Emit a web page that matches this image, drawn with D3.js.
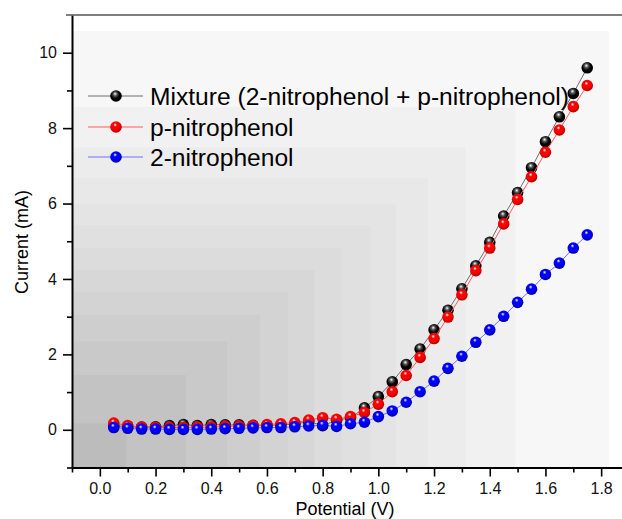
<!DOCTYPE html>
<html><head><meta charset="utf-8">
<script src="https://cdn.jsdelivr.net/npm/d3@7"></script>
<style>body{margin:0;background:#fff}svg{display:block;font-family:"Liberation Sans",Arial,sans-serif}</style>
</head><body><svg id="c" width="622" height="519"></svg>
<script>
const potential = [0.05,0.10,0.15,0.20,0.25,0.30,0.35,0.40,0.45,0.50,0.55,0.60,0.65,0.70,0.75,0.80,0.85,0.90,0.95,1.00,1.05,1.10,1.15,1.20,1.25,1.30,1.35,1.40,1.45,1.50,1.55,1.60,1.65,1.70,1.75];
const mixture = [0.10,0.09,0.07,0.08,0.11,0.14,0.11,0.14,0.13,0.13,0.12,0.12,0.13,0.15,0.22,0.11,0.25,0.32,0.58,0.88,1.27,1.73,2.14,2.65,3.17,3.74,4.35,4.97,5.67,6.29,6.95,7.64,8.30,8.92,9.60];
const pNitro = [0.18,0.11,0.07,0.06,0.06,0.06,0.07,0.07,0.09,0.10,0.11,0.14,0.16,0.19,0.26,0.32,0.28,0.35,0.46,0.68,1.01,1.44,1.92,2.42,2.99,3.58,4.22,4.82,5.46,6.11,6.71,7.36,7.95,8.57,9.13];
const oNitro = [0.06,0.04,0.02,0.02,0.01,0.01,0.01,0.02,0.03,0.04,0.05,0.06,0.06,0.08,0.10,0.12,0.09,0.16,0.20,0.35,0.50,0.73,1.01,1.29,1.63,1.95,2.32,2.65,3.01,3.38,3.73,4.12,4.42,4.82,5.17];
const seriesNames = ["Mixture (2-nitrophenol + p-nitrophenol)","p-nitrophenol","2-nitrophenol"];
const xMajorTicks = [0.0,0.2,0.4,0.6,0.8,1.0,1.2,1.4,1.6,1.8];
const xMinorTicks = [-0.1,0.1,0.3,0.5,0.7,0.9,1.1,1.3,1.5,1.7];
const yMajorTicks = [0,2,4,6,8,10];
const yMinorTicks = [-1,1,3,5,7,9];

const series = [
  {name: seriesNames[0], values: mixture, color:"#000000", dark:"#000000", line:"#6e6e6e", id:"gk"},
  {name: seriesNames[1], values: pNitro, color:"#ff0000", dark:"#b00000", line:"#ff5a5a", id:"gr"},
  {name: seriesNames[2], values: oNitro, color:"#0000ff", dark:"#0000a8", line:"#7070ff", id:"gb"}
];

const svg = d3.select("#c");
const x = d3.scaleLinear().domain([-0.1,1.9]).range([72,629]);
const y = d3.scaleLinear().domain([-1,11]).range([467.5,15]);

// stepped gray background
const bgFractions = [1,0.826,0.733,0.663,0.603,0.555,0.502,0.452,0.402,0.350,0.289,0.212,0.101];
const bgColors = ["#f7f7f7","#f1f1f1","#ececec","#e8e8e8","#e4e4e4","#e0e0e0","#dcdcdc","#d7d7d7","#d3d3d3","#cecece","#c9c9c9","#c3c3c3","#bcbcbc"];
const bgW = 609-72, bgH = 467.5-31;
svg.append("g").selectAll("rect").data(bgFractions).join("rect")
  .attr("x",72).attr("y",(f)=>467.5-f*bgH).attr("width",f=>f*bgW).attr("height",f=>f*bgH)
  .attr("fill",(f,i)=>bgColors[i]);

// gradients for spheres
const defs = svg.append("defs");
series.forEach(s=>{
  const g = defs.append("radialGradient").attr("id",s.id).attr("cx","0.45").attr("cy","0.4").attr("r","0.6").attr("fx","0.42").attr("fy","0.3");
  g.append("stop").attr("offset","0%").attr("stop-color","#ffffff");
  g.append("stop").attr("offset","28%").attr("stop-color",s.color===("#000000")?"#555":s.color);
  g.append("stop").attr("offset","60%").attr("stop-color",s.color);
  g.append("stop").attr("offset","100%").attr("stop-color",s.dark);
});

// axes
const axisG = svg.append("g");
axisG.append("g").attr("transform","translate(0,467.5)")
  .call(d3.axisBottom(x).tickValues(xMajorTicks).tickSize(9).tickSizeOuter(0).tickPadding(6).tickFormat(d3.format(".1f")));
axisG.append("g").attr("transform","translate(0,467.5)")
  .call(d3.axisBottom(x).tickValues(xMinorTicks).tickSize(5).tickSizeOuter(0).tickFormat(""))
  .select(".domain").remove();
axisG.append("g").attr("transform","translate(72,0)")
  .call(d3.axisLeft(y).tickValues(yMajorTicks).tickSize(9).tickSizeOuter(0).tickPadding(6));
axisG.append("g").attr("transform","translate(72,0)")
  .call(d3.axisLeft(y).tickValues(yMinorTicks).tickSize(5).tickSizeOuter(0).tickFormat(""))
  .select(".domain").remove();
axisG.selectAll(".domain").attr("stroke","#000").attr("stroke-width",2);
axisG.selectAll(".tick line").attr("stroke","#000").attr("stroke-width",1.6);
axisG.selectAll(".tick text").attr("font-size",16).attr("fill","#111").attr("font-family","'Liberation Sans',Arial,sans-serif");
// top frame
svg.append("line").attr("x1",66).attr("x2",622).attr("y1",15).attr("y2",15).attr("stroke","#555").attr("stroke-width",1.5);

// series lines and markers
const line = d3.line().x((d,i)=>x(potential[i])).y(d=>y(d));
series.forEach(s=>{
  const g = svg.append("g");
  g.append("path").attr("d",line(s.values)).attr("fill","none").attr("stroke",s.line).attr("stroke-width",1);
  g.selectAll("circle").data(s.values).join("circle")
    .attr("cx",(d,i)=>x(potential[i])).attr("cy",d=>y(d)).attr("r",5.8)
    .attr("fill",`url(#${s.id})`);
});

// legend
const leg = svg.append("g");
const legY = [96,127,157];
series.forEach((s,i)=>{
  leg.append("line").attr("x1",88).attr("x2",143).attr("y1",legY[i]).attr("y2",legY[i]).attr("stroke",s.line).attr("stroke-width",1);
  leg.append("circle").attr("cx",116).attr("cy",legY[i]).attr("r",5.8).attr("fill",`url(#${s.id})`);
  leg.append("text").attr("x",150).attr("y",legY[i]+8.5).attr("font-size",24.6).attr("fill","#000").text(s.name);
});

// axis titles
svg.append("text").attr("x",345).attr("y",515).attr("text-anchor","middle").attr("font-size",18).text("Potential (V)");
svg.append("text").attr("transform","translate(28,242) rotate(-90)").attr("text-anchor","middle").attr("font-size",18).text("Current (mA)");
</script></body></html>
